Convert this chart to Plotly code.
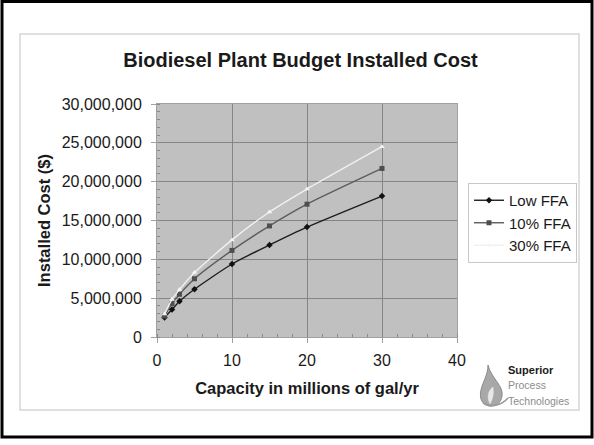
import plotly.graph_objects as go

capacity = [1, 2, 3, 5, 10, 15, 20, 30]
low_ffa = [2500000, 3550000, 4600000, 6150000, 9400000, 11850000, 14150000, 18150000]
ffa_10 = [2700000, 4300000, 5500000, 7500000, 11150000, 14300000, 17100000, 21700000]
ffa_30 = [2950000, 4850000, 6100000, 8300000, 12500000, 16100000, 19050000, 24500000]

y_ticks = [0, 5000000, 10000000, 15000000, 20000000, 25000000, 30000000]
y_tick_labels = ["0", "5,000,000", "10,000,000", "15,000,000", "20,000,000", "25,000,000", "30,000,000"]
x_ticks = [0, 10, 20, 30, 40]

FONT = "Liberation Sans, Arial, sans-serif"

# plot area in pixels
PL, PR, PT, PB = 157, 457, 104, 337
W, H = 594, 445


def px(xp):
    return (xp - PL) / (PR - PL)


def py(yp):
    return 1 - (yp - PT) / (PB - PT)


fig = go.Figure()
fig.add_trace(go.Scatter(x=capacity, y=low_ffa, name="Low FFA", mode="lines+markers",
                         line=dict(color="#1e1e1e", width=1.4, shape="spline", smoothing=0.6),
                         marker=dict(symbol="diamond", size=5, color="#111111")))
fig.add_trace(go.Scatter(x=capacity, y=ffa_10, name="10% FFA", mode="lines+markers",
                         line=dict(color="#5c5c5c", width=1.4, shape="spline", smoothing=0.6),
                         marker=dict(symbol="square", size=5, color="#4e4e4e")))
fig.add_trace(go.Scatter(x=capacity, y=ffa_30, name="30% FFA", mode="lines+markers",
                         line=dict(color="#f0f0f0", width=1.4, shape="spline", smoothing=0.6),
                         marker=dict(symbol="triangle-up", size=5, color="#f4f4f4")))

fig.update_layout(
    width=W, height=H,
    margin=dict(l=PL, r=W - PR, t=PT, b=H - PB, autoexpand=False),
    paper_bgcolor="white",
    plot_bgcolor="#c0c0c0",
    font=dict(family=FONT, size=16, color="#1a1a1a"),
    title=dict(text="<b>Biodiesel Plant Budget Installed Cost</b>", x=300.5 / W, xanchor="center",
               xref="container", y=1 - 60 / H, yanchor="middle", yref="container",
               font=dict(size=20, family=FONT, color="#1a1a1a")),
    xaxis=dict(range=[0, 40], tickvals=x_ticks, showgrid=True, gridcolor="#858585", gridwidth=1,
               zeroline=False, showline=True, linecolor="#a0a0a0", ticks="outside", ticklen=5,
               tickcolor="#a0a0a0", ticklabelstandoff=4,
               minor=dict(dtick=2, ticks="inside", ticklen=3, tickcolor="#8a8a8a", showgrid=False),
               title=dict(text="<b>Capacity in millions of gal/yr</b>", font=dict(size=16.5), standoff=14),
               tickfont=dict(size=16), mirror=True),
    yaxis=dict(range=[0, 30000000], tickvals=y_ticks, ticktext=y_tick_labels, showgrid=True,
               gridcolor="#858585", gridwidth=1, zeroline=False, showline=True, linecolor="#a0a0a0",
               ticks="outside", ticklen=5, tickcolor="#a0a0a0", ticklabelstandoff=6,
               minor=dict(dtick=1000000, ticks="inside", ticklen=3, tickcolor="#8a8a8a", showgrid=False),
               title=dict(text="<b>Installed Cost ($)</b>", font=dict(size=16.5), standoff=6),
               tickfont=dict(size=16), mirror=True),
    legend=dict(x=px(577), y=py(183), xanchor="right", yanchor="top",
                bgcolor="white", bordercolor="#c8c8c8", borderwidth=1, font=dict(size=15),
                tracegroupgap=0, itemwidth=30),
    showlegend=True,
)

shapes = [
    # outer black frame
    dict(type="rect", xref="paper", yref="paper", x0=px(2), x1=px(592),
         y0=py(437), y1=py(1.5), line=dict(color="black", width=3)),
    # inner light box
    dict(type="rect", xref="paper", yref="paper", x0=px(20), x1=px(579),
         y0=py(410), y1=py(34), line=dict(color="#d6d6d6", width=1.5)),
]
# logo drop shape
drop = (f"M {px(488)},{py(365)} C {px(491)},{py(378)} {px(504)},{py(386)} {px(502)},{py(396)} "
        f"C {px(501)},{py(404)} {px(494)},{py(407)} {px(489)},{py(406)} "
        f"C {px(482)},{py(405)} {px(479)},{py(398)} {px(481)},{py(390)} "
        f"C {px(483)},{py(381)} {px(488)},{py(375)} {px(488)},{py(365)} Z")
shapes.append(dict(type="path", xref="paper", yref="paper", path=drop,
                   fillcolor="#a8a8a8", line=dict(color="#8a8a8a", width=1)))
swoosh = (f"M {px(483)},{py(403)} C {px(492)},{py(408)} {px(502)},{py(405)} {px(508)},{py(398)}")
shapes.append(dict(type="path", xref="paper", yref="paper", path=swoosh,
                   line=dict(color="#9a9a9a", width=1.5)))
leaf = (f"M {px(490)},{py(404)} C {px(486)},{py(396)} {px(489)},{py(390)} {px(493)},{py(387)} "
        f"C {px(494)},{py(393)} {px(493)},{py(399)} {px(490)},{py(404)} Z")
shapes.append(dict(type="path", xref="paper", yref="paper", path=leaf,
                   fillcolor="#e8e8e8", line=dict(color="#e8e8e8", width=0.5)))
fig.update_layout(shapes=shapes)

annotations = [
    dict(text="<b>Superior</b>", x=px(506), y=py(370), xref="paper", yref="paper", xanchor="left",
         yanchor="middle", showarrow=False, font=dict(size=11, color="#1a1a1a", family=FONT)),
    dict(text="Process", x=px(506), y=py(385), xref="paper", yref="paper", xanchor="left",
         yanchor="middle", showarrow=False, font=dict(size=10.5, color="#8c8c8c", family=FONT)),
    dict(text="Technologies", x=px(506), y=py(401), xref="paper", yref="paper", xanchor="left",
         yanchor="middle", showarrow=False, font=dict(size=10.5, color="#8c8c8c", family=FONT)),
]
fig.update_layout(annotations=annotations)

fig.write_html("out.html", config={"displayModeBar": False},
               post_script="document.body.style.margin='0';document.body.style.overflow='hidden';")
